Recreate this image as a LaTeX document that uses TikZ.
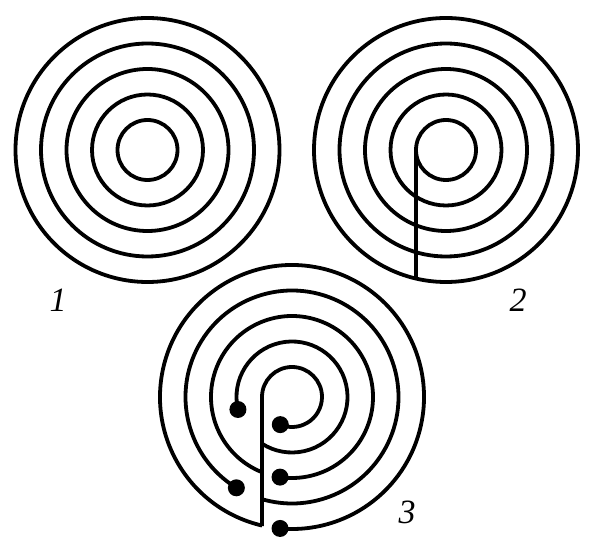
\documentclass[tikz,border=0pt]{standalone}
\usepackage{fontspec}
\setmainfont{Liberation Serif}
\usetikzlibrary{calc}
\tikzset{ring/.style={line width=3.8pt},
  blob/.style={circle, fill, inner sep=0pt, minimum size=17pt},
  lbl/.style={font=\itshape\fontsize{34}{36}\selectfont}}
\begin{document}
\begin{tikzpicture}[x=1pt, y=1pt]
\useasboundingbox (0,0) rectangle (597,552);
\coordinate (c1) at (147.5,402);
\coordinate (c2) at (446,402);
\coordinate (c3) at (292,155);
% 1 and 2
\foreach \r in {30,55.5,81,106.5,132}{
  \draw[ring] (c1) circle[radius=\r];
  \draw[ring] (c2) circle[radius=\r];
}
\draw[ring] ($(c2)+(-30,0)$) -- ($(c2)+(-30,-128.5)$);
% 3
\draw[ring] ($(c3)+(-30,-129)$) -- ($(c3)+(-30,0)$)
  arc[start angle=180, end angle=-113, radius=30] coordinate (eB);
\draw[ring] ($(c3)+(193:55.5)$) coordinate (eA)
  arc[start angle=193, end angle=-122.7, radius=55.5];
\draw[ring] ($(c3)+(248.3:81)$)
  arc[start angle=248.3, end angle=-98.5, radius=81] coordinate (eC);
\draw[ring] ($(c3)+(238.5:106.5)$) coordinate (eD)
  arc[start angle=238.5, end angle=-106.4, radius=106.5];
\draw[ring] ($(c3)+(256.9:132)$)
  arc[start angle=256.9, end angle=-95.2, radius=132] coordinate (eE);
\foreach \e in {eA,eB,eC,eD,eE}
  \node[blob] (dot\e) at (\e) {};
\node[lbl] (l1) at (58,252) {1};
\node[lbl] (l2) at (518,252) {2};
\node[lbl] (l3) at (407,40) {3};
\end{tikzpicture}
\end{document}
